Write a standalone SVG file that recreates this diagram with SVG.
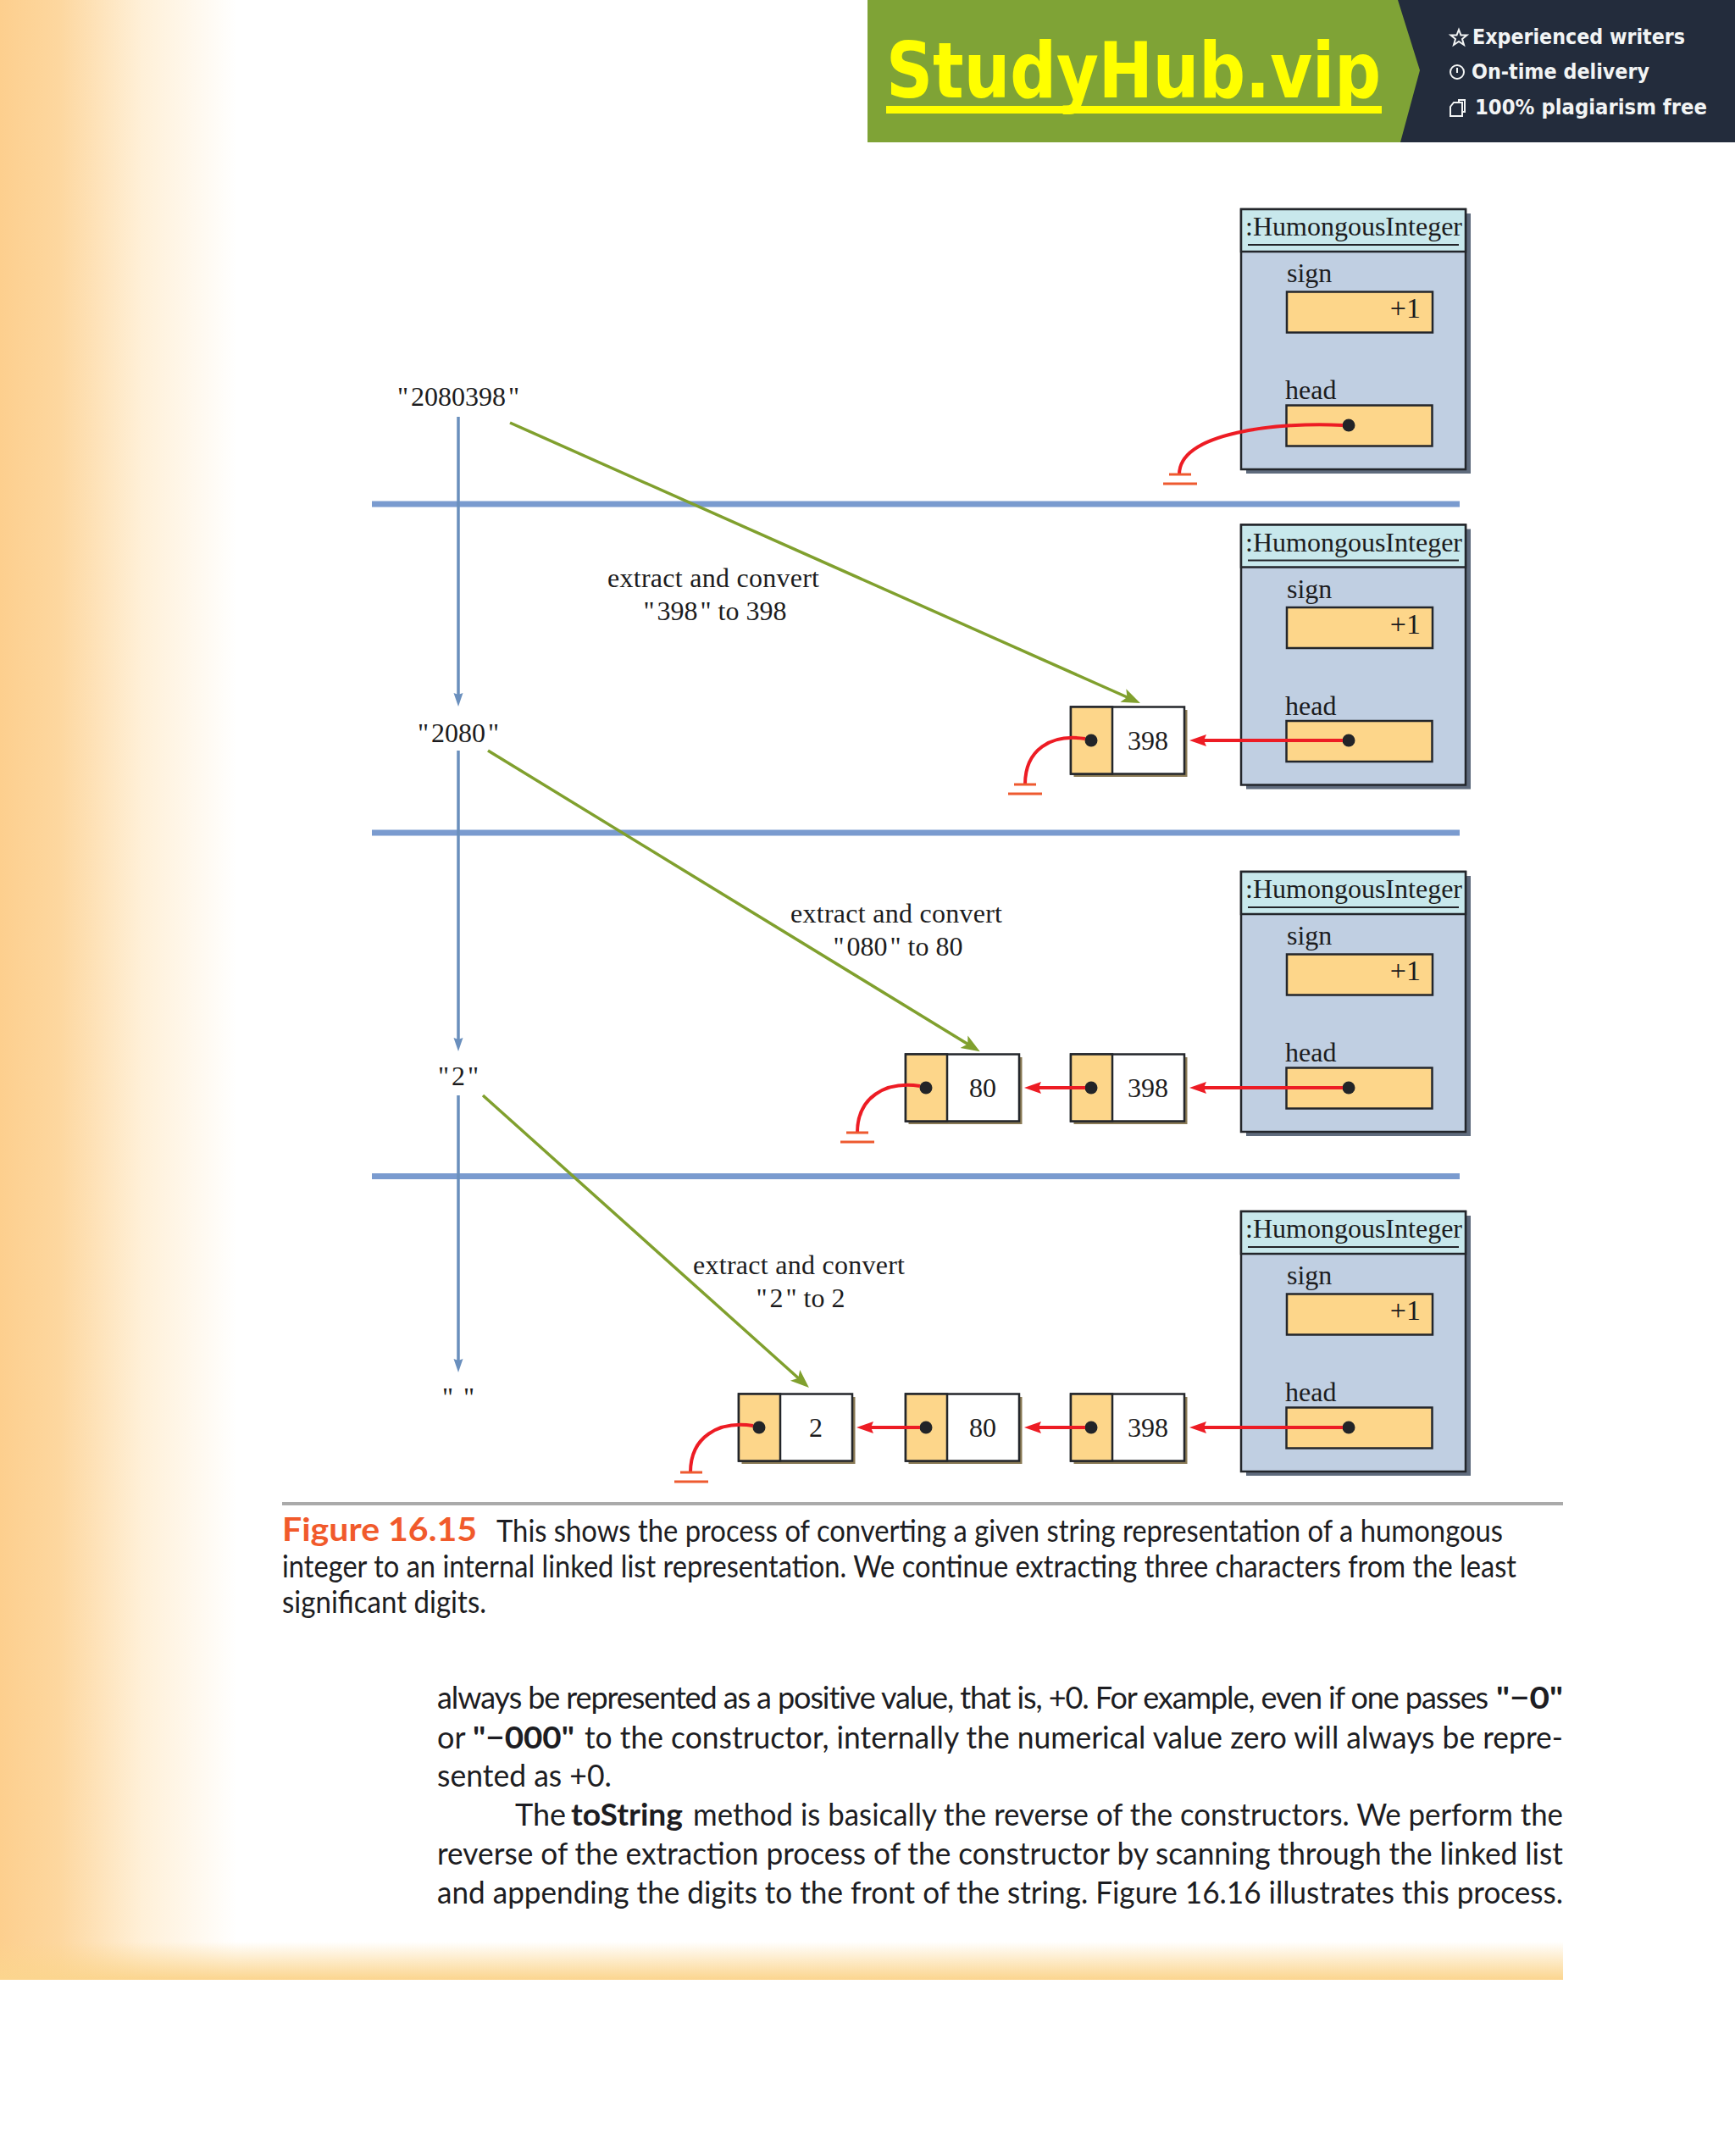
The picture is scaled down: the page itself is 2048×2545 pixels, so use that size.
<svg xmlns="http://www.w3.org/2000/svg" width="2048" height="2545" viewBox="0 0 2048 2545">
<defs>
<linearGradient id="gl" x1="0" x2="1" y1="0" y2="0"><stop offset="0" stop-color="#fdcf8e"/><stop offset=".25" stop-color="#fdd79f"/><stop offset=".6" stop-color="#fff0d8"/><stop offset="1" stop-color="#fff"/></linearGradient>
<linearGradient id="gb" x1="0" x2="0" y1="0" y2="1"><stop offset="0" stop-color="#fdd68f" stop-opacity="0"/><stop offset="1" stop-color="#fbd58e"/></linearGradient>
<marker id="mr" markerUnits="userSpaceOnUse" markerWidth="22" markerHeight="16" viewBox="0 0 22 16" refX="10" refY="8" orient="auto"><path d="M0 1L20 8L0 15L3 8Z" fill="#ed1c24"/></marker>
<marker id="mg" markerUnits="userSpaceOnUse" markerWidth="24" markerHeight="20" viewBox="0 0 24 20" refX="10" refY="10" orient="auto"><path d="M0 1.500L22 10L0 18.500L5 10Z" fill="#80a02e"/></marker>
<marker id="mb" markerUnits="userSpaceOnUse" markerWidth="16" markerHeight="14" viewBox="0 0 16 14" refX="8" refY="7" orient="auto"><path d="M0 1.500L16 7L0 12.500L2 7Z" fill="#6a8fbd"/></marker>
</defs>
<style>
.s{font-family:"Liberation Serif","Times New Roman",serif;font-size:32px;fill:#1c1c20}
.c{font-family:Lato,"Open Sans",sans-serif;font-size:36px;fill:#1d1d22}
.b{font-weight:700}
.k{fill:#222428}
.box{fill:#c0cfe2;stroke:#23262b;stroke-width:2.500}
.hd{fill:#c8e8ec;stroke:#23262b;stroke-width:2.500}
.fld{fill:#fdd68a;stroke:#23262b;stroke-width:2.500}
.wh{fill:#fff;stroke:#23262b;stroke-width:2.500}
.sbox{fill:#5f6b7d}
.snod{fill:#8a7a55}
.red{fill:none;stroke:#ed1c24;stroke-width:4}
.gnd{stroke:#ee5a30;stroke-width:3;fill:none}
.grn{stroke:#80a02e;stroke-width:3.500;fill:none}
.blu{stroke:#6a8fbd;stroke-width:3.500;fill:none}
.sep{fill:#7a9bcf}
.ban{font-family:"DejaVu Sans",sans-serif;font-weight:700;font-size:24px;fill:#f2f4f4}
.ico{fill:none;stroke:#f2f4f4;stroke-width:2}
</style>
<rect width="2048" height="2545" fill="#fff"/>
<g id="page-background">
<rect x="0" y="0" width="280" height="2337" fill="url(#gl)"/>
<rect x="0" y="2292" width="1845" height="45" fill="url(#gb)"/>
</g>
<g id="banner">
<rect x="1024" y="0" width="1024" height="168" fill="#7fa336"/>
<path d="M1650 0H2048V168H1653L1676 83Z" fill="#232c3c"/>
<text x="1046" y="115" font-family="DejaVu Sans,sans-serif" font-weight="700" font-size="90" fill="#ffff00" textLength="584" lengthAdjust="spacingAndGlyphs">StudyHub.vip</text>
<rect x="1046" y="125" width="585" height="9" fill="#ffff00"/>
<path class="ico" d="M1722 35l2.500 6.500h7l-5.500 4.500 2 7-6-4-6 4 2-7-5.500-4.500h7z"/>
<text class="ban" x="1738" y="52" textLength="251" lengthAdjust="spacingAndGlyphs">Experienced writers</text>
<circle class="ico" cx="1720" cy="85" r="8"/><path class="ico" d="M1720 80v6"/>
<text class="ban" x="1737" y="93" textLength="210" lengthAdjust="spacingAndGlyphs">On-time delivery</text>
<path class="ico" d="M1716 121h10v16h-14v-11zM1722 121v-3h7v14h-3"/>
<text class="ban" x="1741" y="135" textLength="274" lengthAdjust="spacingAndGlyphs">100% plagiarism free</text>
</g>
<g id="separators">
<rect class="sep" x="439" y="591.500" width="1284" height="7"/>
<rect class="sep" x="439" y="979.500" width="1284" height="7"/>
<rect class="sep" x="439" y="1385" width="1284" height="7"/>
</g>
<g id="object-1">
<rect class="sbox" x="1471" y="252" width="265" height="307"/>
<rect class="box" x="1465" y="247" width="265" height="307"/>
<rect class="hd" x="1465" y="247" width="265" height="50"/>
<text class="s" x="1470" y="278" textLength="256" lengthAdjust="spacingAndGlyphs">:HumongousInteger</text>
<rect class="k" x="1473" y="288" width="249" height="2"/>
<text class="s" x="1519" y="333">sign</text>
<rect class="fld" x="1519" y="344.500" width="172" height="48"/>
<text class="s" x="1677" y="375" text-anchor="end" style="font-size:34px">+1</text>
<text class="s" x="1517" y="471">head</text>
<rect class="fld" x="1518.500" y="478.500" width="172" height="48"/>
<circle class="k" cx="1592" cy="502" r="7.500"/>
</g>
<g id="object-2" transform="translate(0,372.500)">
<rect class="sbox" x="1471" y="252" width="265" height="307"/>
<rect class="box" x="1465" y="247" width="265" height="307"/>
<rect class="hd" x="1465" y="247" width="265" height="50"/>
<text class="s" x="1470" y="278" textLength="256" lengthAdjust="spacingAndGlyphs">:HumongousInteger</text>
<rect class="k" x="1473" y="288" width="249" height="2"/>
<text class="s" x="1519" y="333">sign</text>
<rect class="fld" x="1519" y="344.500" width="172" height="48"/>
<text class="s" x="1677" y="375" text-anchor="end" style="font-size:34px">+1</text>
<text class="s" x="1517" y="471">head</text>
<rect class="fld" x="1518.500" y="478.500" width="172" height="48"/>
<circle class="k" cx="1592" cy="501.500" r="7.500"/>
</g>
<g id="object-3" transform="translate(0,782)">
<rect class="sbox" x="1471" y="252" width="265" height="307"/>
<rect class="box" x="1465" y="247" width="265" height="307"/>
<rect class="hd" x="1465" y="247" width="265" height="50"/>
<text class="s" x="1470" y="278" textLength="256" lengthAdjust="spacingAndGlyphs">:HumongousInteger</text>
<rect class="k" x="1473" y="288" width="249" height="2"/>
<text class="s" x="1519" y="333">sign</text>
<rect class="fld" x="1519" y="344.500" width="172" height="48"/>
<text class="s" x="1677" y="375" text-anchor="end" style="font-size:34px">+1</text>
<text class="s" x="1517" y="471">head</text>
<rect class="fld" x="1518.500" y="478.500" width="172" height="48"/>
<circle class="k" cx="1592" cy="502" r="7.500"/>
</g>
<g id="object-4" transform="translate(0,1183)">
<rect class="sbox" x="1471" y="252" width="265" height="307"/>
<rect class="box" x="1465" y="247" width="265" height="307"/>
<rect class="hd" x="1465" y="247" width="265" height="50"/>
<text class="s" x="1470" y="278" textLength="256" lengthAdjust="spacingAndGlyphs">:HumongousInteger</text>
<rect class="k" x="1473" y="288" width="249" height="2"/>
<text class="s" x="1519" y="333">sign</text>
<rect class="fld" x="1519" y="344.500" width="172" height="48"/>
<text class="s" x="1677" y="375" text-anchor="end" style="font-size:34px">+1</text>
<text class="s" x="1517" y="471">head</text>
<rect class="fld" x="1518.500" y="478.500" width="172" height="48"/>
<circle class="k" cx="1592" cy="502" r="7.500"/>
</g>
<g id="node-398-a" transform="translate(1264,874)">
<rect class="snod" x="3.500" y="-36" width="134" height="79"/><rect class="wh" x="0" y="-39.500" width="134" height="79"/><rect class="fld" x="0" y="-39.500" width="49" height="79"/>
<circle class="k" cx="24" cy="0" r="7.500"/><text class="s" x="91" y="11" text-anchor="middle">398</text>
</g>
<g id="node-398-b" transform="translate(1264,1284)">
<rect class="snod" x="3.500" y="-36" width="134" height="79"/><rect class="wh" x="0" y="-39.500" width="134" height="79"/><rect class="fld" x="0" y="-39.500" width="49" height="79"/>
<circle class="k" cx="24" cy="0" r="7.500"/><text class="s" x="91" y="11" text-anchor="middle">398</text>
</g>
<g id="node-80-b" transform="translate(1069,1284)">
<rect class="snod" x="3.500" y="-36" width="134" height="79"/><rect class="wh" x="0" y="-39.500" width="134" height="79"/><rect class="fld" x="0" y="-39.500" width="49" height="79"/>
<circle class="k" cx="24" cy="0" r="7.500"/><text class="s" x="91" y="11" text-anchor="middle">80</text>
</g>
<g id="node-398-c" transform="translate(1264,1685)">
<rect class="snod" x="3.500" y="-36" width="134" height="79"/><rect class="wh" x="0" y="-39.500" width="134" height="79"/><rect class="fld" x="0" y="-39.500" width="49" height="79"/>
<circle class="k" cx="24" cy="0" r="7.500"/><text class="s" x="91" y="11" text-anchor="middle">398</text>
</g>
<g id="node-80-c" transform="translate(1069,1685)">
<rect class="snod" x="3.500" y="-36" width="134" height="79"/><rect class="wh" x="0" y="-39.500" width="134" height="79"/><rect class="fld" x="0" y="-39.500" width="49" height="79"/>
<circle class="k" cx="24" cy="0" r="7.500"/><text class="s" x="91" y="11" text-anchor="middle">80</text>
</g>
<g id="node-2-c" transform="translate(872,1685)">
<rect class="snod" x="3.500" y="-36" width="134" height="79"/><rect class="wh" x="0" y="-39.500" width="134" height="79"/><rect class="fld" x="0" y="-39.500" width="49" height="79"/>
<circle class="k" cx="24" cy="0" r="7.500"/><text class="s" x="91" y="11" text-anchor="middle">2</text>
</g>
<g id="connectors">
<path class="blu" marker-end="url(#mb)" d="M541 492V826"/>
<path class="blu" marker-end="url(#mb)" d="M541 886V1233"/>
<path class="blu" marker-end="url(#mb)" d="M541 1293V1612"/>
<path class="grn" marker-end="url(#mg)" d="M602 499L1335 825"/>
<path class="grn" marker-end="url(#mg)" d="M576 886L1146.500 1235"/>
<path class="grn" marker-end="url(#mg)" d="M570 1293L946 1630"/>
<path class="red" d="M1585 502C1510 498 1392 510 1392 560"/>
<path class="gnd" d="M1380 560H1406M1373 571H1413"/>
<path class="red" marker-end="url(#mr)" d="M1585 874H1414"/>
<path class="red" d="M1281 872C1240 866 1210 885 1210 926"/>
<path class="gnd" d="M1197 926H1223M1190 937H1230"/>
<path class="red" marker-end="url(#mr)" d="M1585 1284H1414"/>
<path class="red" marker-end="url(#mr)" d="M1281 1284H1219"/>
<path class="red" d="M1086 1282C1045 1276 1012 1295 1012 1337"/>
<path class="gnd" d="M999 1337H1025M992 1348H1032"/>
<path class="red" marker-end="url(#mr)" d="M1585 1685H1414"/>
<path class="red" marker-end="url(#mr)" d="M1281 1685H1219"/>
<path class="red" marker-end="url(#mr)" d="M1086 1685H1021"/>
<path class="red" d="M889 1683C848 1677 815 1696 815 1738"/>
<path class="gnd" d="M803 1738H829M796 1749H836"/>
</g>
<g id="labels">
<text class="s" x="541" y="479" text-anchor="middle">"<tspan dx="3">2080398</tspan><tspan dx="3">"</tspan></text>
<text class="s" x="541" y="876" text-anchor="middle">"<tspan dx="3">2080</tspan><tspan dx="3">"</tspan></text>
<text class="s" x="541" y="1281" text-anchor="middle">"<tspan dx="3">2</tspan><tspan dx="3">"</tspan></text>
<text class="s" x="541" y="1660" text-anchor="middle">"<tspan dx="12">"</tspan></text>
<text class="s" x="842" y="693" text-anchor="middle" textLength="250">extract and convert</text>
<text class="s" x="844" y="732" text-anchor="middle">"<tspan dx="3">398</tspan><tspan dx="3">"</tspan> to 398</text>
<text class="s" x="1058" y="1089" text-anchor="middle" textLength="250">extract and convert</text>
<text class="s" x="1060" y="1128" text-anchor="middle">"<tspan dx="3">080</tspan><tspan dx="3">"</tspan> to 80</text>
<text class="s" x="943" y="1504" text-anchor="middle" textLength="250">extract and convert</text>
<text class="s" x="945" y="1543" text-anchor="middle">"<tspan dx="3">2</tspan><tspan dx="3">"</tspan> to 2</text>
</g>
<g id="caption">
<rect x="333" y="1773" width="1512" height="4" fill="#aaaaaa"/>
<text x="333" y="1819" font-family="Lato,sans-serif" font-weight="700" font-size="38" fill="#f15a2b" textLength="230" lengthAdjust="spacingAndGlyphs">Figure 16.15</text>
<text class="c" x="586" y="1819.500" textLength="1188" lengthAdjust="spacingAndGlyphs">This shows the process of converting a given string representation of a humongous</text>
<text class="c" x="333" y="1861.500" textLength="1457" lengthAdjust="spacingAndGlyphs">integer to an internal linked list representation.  We continue extracting three characters from the least</text>
<text class="c" x="333" y="1903.500" textLength="241" lengthAdjust="spacingAndGlyphs">significant digits.</text>
</g>
<g id="body-text">
<text class="c" x="516" y="2017" style="letter-spacing:-1.1px">always be represented as a positive value, that is, +0. For example, even if one passes</text>
<text class="c b" x="1766" y="2017" textLength="79" lengthAdjust="spacingAndGlyphs">"−0"</text>
<text class="c" x="516" y="2063.500">or</text>
<text class="c b" x="558" y="2063.500" textLength="120" lengthAdjust="spacingAndGlyphs">"−000"</text>
<text class="c" x="690" y="2063.500" textLength="1155" lengthAdjust="spacingAndGlyphs">to the constructor, internally the numerical value zero will always be repre-</text>
<text class="c" x="516" y="2109" textLength="206" lengthAdjust="spacingAndGlyphs">sented as +0.</text>
<text class="c" x="608" y="2155">The</text>
<text class="c b" x="674" y="2155" textLength="132" lengthAdjust="spacingAndGlyphs">toString</text>
<text class="c" x="818" y="2155" textLength="1027" lengthAdjust="spacingAndGlyphs">method is basically the reverse of the constructors. We perform the</text>
<text class="c" x="516" y="2201" textLength="1329" lengthAdjust="spacingAndGlyphs">reverse of the extraction process of the constructor by scanning through the linked list</text>
<text class="c" x="516" y="2247" textLength="1329" lengthAdjust="spacingAndGlyphs">and appending the digits to the front of the string. Figure 16.16 illustrates this process.</text>
</g>
</svg>
